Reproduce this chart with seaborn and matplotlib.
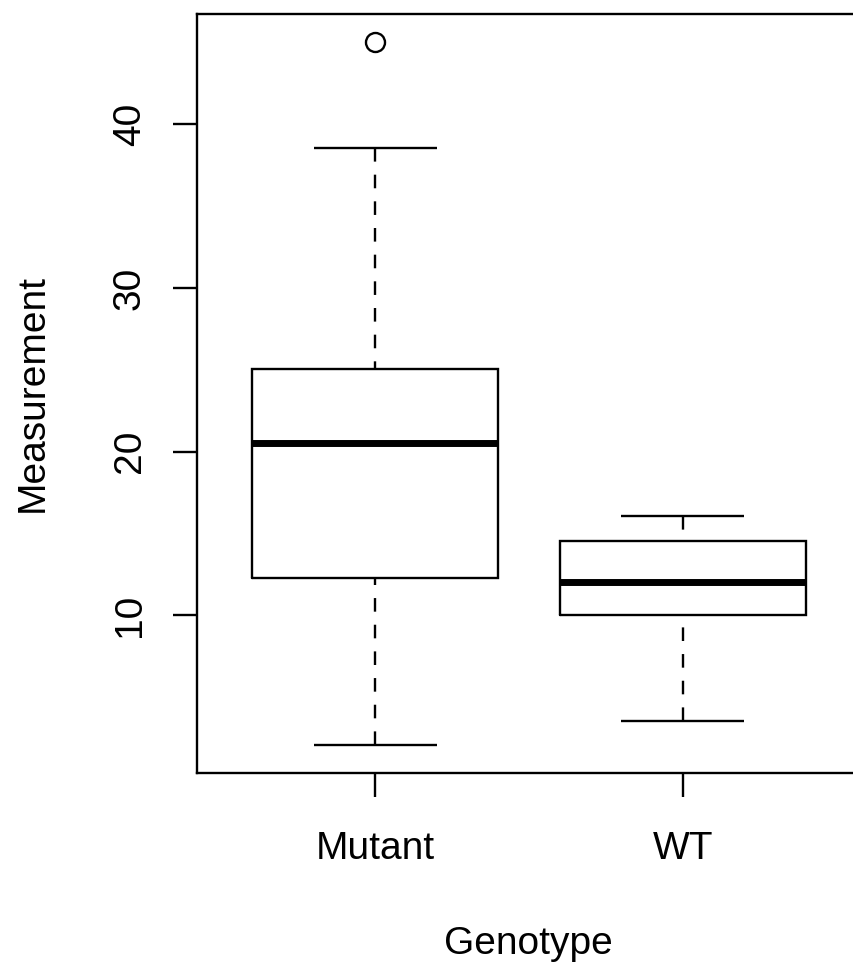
import matplotlib
matplotlib.use("Agg")
import matplotlib.pyplot as plt
import numpy as np
import pandas as pd
import seaborn as sns

# Measurements per genotype
genotypes = ["Mutant", "WT"]
mutant_values = [2.09, 7.4, 12.31, 16.8, 20.53, 23.2, 25.05, 38.57, 45.02]
wt_values = [3.55, 10.0, 12.04, 14.54, 16.07]
y_ticks = [10, 20, 30, 40]
x_label = "Genotype"
y_label = "Measurement"

df = pd.DataFrame({
    "Genotype": [genotypes[0]] * len(mutant_values) + [genotypes[1]] * len(wt_values),
    "Measurement": mutant_values + wt_values,
})

sns.set_theme(style="ticks")
plt.rcParams["font.family"] = ["Liberation Sans", "DejaVu Sans"]
plt.rcParams["lines.scale_dashes"] = False
plt.rcParams["text.color"] = "black"
plt.rcParams["axes.labelcolor"] = "black"
plt.rcParams["xtick.color"] = "black"
plt.rcParams["ytick.color"] = "black"

FS = 28
LW = 1.7

fig = plt.figure(figsize=(8.54, 9.69), dpi=100)
fig.patch.set_facecolor("white")
ax = fig.add_axes([0.2303, 0.2023, 0.7779, 0.7833])
ax.set_facecolor("white")

sns.boxplot(
    data=df, x="Genotype", y="Measurement", order=genotypes, ax=ax,
    fill=False, color="black", linecolor="black", width=0.8, linewidth=LW,
    boxprops=dict(color="black", linewidth=LW, solid_joinstyle="miter"),
    medianprops=dict(color="black", linewidth=5.0, solid_capstyle="butt"),
    whiskerprops=dict(color="black", linewidth=LW, linestyle=(0, (9.8, 9.4)),
                      dash_capstyle="butt"),
    capprops=dict(color="black", linewidth=LW, solid_capstyle="butt"),
    flierprops=dict(marker="o", markersize=13.7, markerfacecolor="none",
                    markeredgecolor="black", markeredgewidth=LW),
)

# Dashed whiskers start their pattern at the cap end
for line in ax.lines:
    ls = line.get_linestyle()
    if ls not in ("-", "None", "", " ") and len(line.get_xdata()) == 2:
        xd = np.asarray(line.get_xdata())
        yd = np.asarray(line.get_ydata())
        if xd[0] == xd[1]:
            line.set_data(xd[::-1], yd[::-1])

all_vals = mutant_values + wt_values
lo, hi = min(all_vals), max(all_vals)
pad = 0.04 * (hi - lo)
ax.set_ylim(lo - pad, hi + pad)
n = len(genotypes)
ax.set_xlim(-0.5 - 0.04 * n, n - 0.5 + 0.04 * n)

ax.set_yticks(y_ticks)
ax.set_yticklabels([str(t) for t in y_ticks], rotation=90, va="center")
ax.set_xticks(range(n))
ax.set_xticklabels(genotypes)

for side in ["left", "right", "top", "bottom"]:
    ax.spines[side].set_visible(True)
    ax.spines[side].set_color("black")
    ax.spines[side].set_linewidth(LW)

ax.tick_params(axis="both", direction="out", length=17.3, width=LW,
               labelsize=FS, colors="black")
ax.tick_params(axis="y", pad=18)
ax.tick_params(axis="x", pad=24.5)

ax.set_xlabel(x_label, fontsize=FS)
ax.set_ylabel(y_label, fontsize=FS)
ax.xaxis.set_label_coords(0.5, -0.2016)
ax.yaxis.set_label_coords(-0.219, 0.5)

fig.savefig("out.png", dpi=100, facecolor="white")
